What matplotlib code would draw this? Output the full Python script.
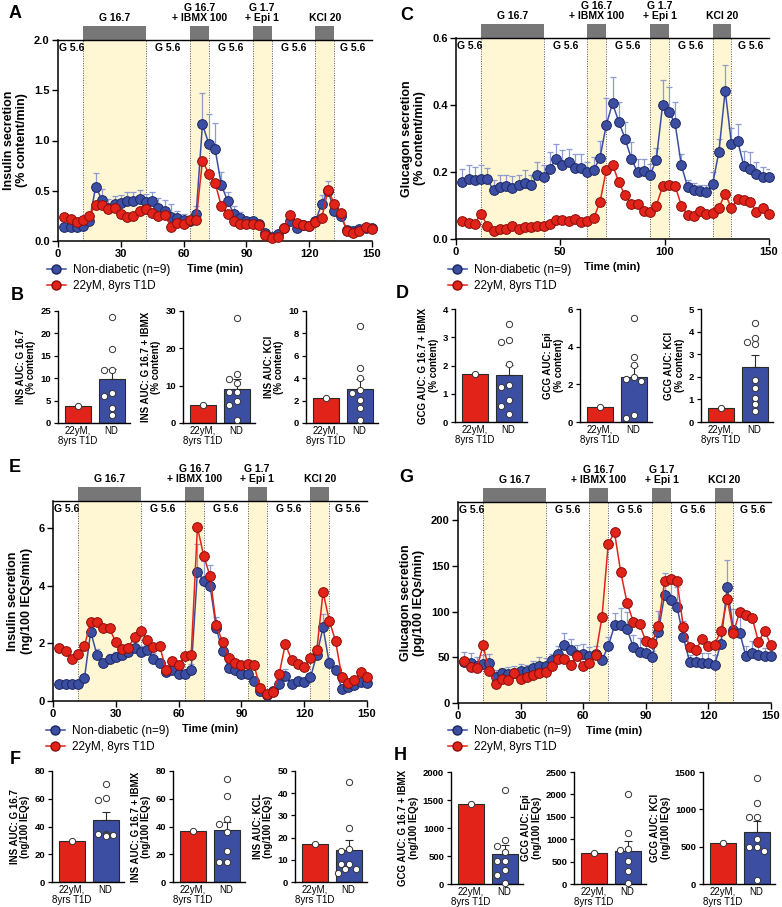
import numpy as np
import matplotlib
matplotlib.use("Agg")
import matplotlib.pyplot as plt
from matplotlib.lines import Line2D
from matplotlib.patches import Rectangle

plt.rcParams['font.family'] = ['Liberation Sans', 'DejaVu Sans']

W, H = 782, 907
fig = plt.figure(figsize=(W / 100, H / 100), dpi=100)

BLUE = '#3b4ea2'
BLUE_EDGE = '#1c2660'
BLUE_ERR = '#8e9bd2'
RED = '#e2231a'
RED_EDGE = '#8a0f0a'
YELLOW = '#fff6d4'
GRAY = '#777777'

# sampling times (min)
time = np.arange(3, 151, 3)

# stimulation windows
stim_spans = [(12, 42), (63, 72), (93, 102), (123, 132)]
stim_labels = ['G 16.7', 'G 16.7\n+ IBMX 100', 'G 1.7\n+ Epi 1', 'KCl 20']
basal_spans = [(0, 12), (42, 63), (72, 93), (102, 123), (132, 150)]

# ---- A: insulin, % content/min
ins_pct_nd = [0.14, 0.14, 0.14, 0.15, 0.20, 0.54, 0.41, 0.33, 0.37, 0.38,
              0.40, 0.40, 0.42, 0.39, 0.40, 0.33, 0.30, 0.24, 0.23, 0.21,
              0.20, 0.27, 1.16, 0.97, 0.92, 0.56, 0.40, 0.27, 0.23, 0.20,
              0.20, 0.17, 0.08, 0.04, 0.07, 0.13, 0.20, 0.13, 0.16, 0.15,
              0.20, 0.37, 0.50, 0.30, 0.25, 0.11, 0.10, 0.12, 0.13, 0.13]
ins_pct_nd_sem = [0.03, 0.03, 0.03, 0.03, 0.04, 0.14, 0.11, 0.09, 0.08, 0.08,
                  0.09, 0.09, 0.09, 0.08, 0.09, 0.10, 0.11, 0.13, 0.07, 0.06,
                  0.04, 0.08, 0.31, 0.29, 0.25, 0.13, 0.09, 0.08, 0.06, 0.04,
                  0.04, 0.04, 0.02, 0.02, 0.02, 0.02, 0.03, 0.02, 0.02, 0.02,
                  0.03, 0.09, 0.10, 0.06, 0.04, 0.02, 0.02, 0.02, 0.02, 0.02]
ins_pct_t1d = [0.24, 0.22, 0.19, 0.21, 0.25, 0.36, 0.36, 0.32, 0.33, 0.27,
               0.24, 0.25, 0.30, 0.32, 0.28, 0.25, 0.26, 0.14, 0.18, 0.17,
               0.21, 0.21, 0.80, 0.67, 0.58, 0.35, 0.27, 0.20, 0.17, 0.17,
               0.17, 0.16, 0.06, 0.03, 0.04, 0.13, 0.26, 0.18, 0.16, 0.15,
               0.19, 0.23, 0.51, 0.37, 0.28, 0.10, 0.08, 0.10, 0.14, 0.12]

# ---- C: glucagon, % content/min
gcg_pct_nd = [0.170, 0.180, 0.175, 0.180, 0.178, 0.145, 0.155, 0.157, 0.153, 0.160,
              0.167, 0.160, 0.190, 0.185, 0.210, 0.240, 0.220, 0.230, 0.213, 0.213,
              0.200, 0.205, 0.243, 0.340, 0.405, 0.350, 0.300, 0.240, 0.200, 0.203,
              0.190, 0.237, 0.400, 0.380, 0.345, 0.220, 0.155, 0.147, 0.142, 0.140,
              0.165, 0.260, 0.443, 0.285, 0.292, 0.217, 0.210, 0.195, 0.185, 0.185]
gcg_pct_nd_sem = [0.040, 0.040, 0.040, 0.040, 0.035, 0.030, 0.035, 0.035, 0.035, 0.030,
                  0.040, 0.030, 0.040, 0.035, 0.050, 0.045, 0.045, 0.040, 0.040, 0.040,
                  0.030, 0.040, 0.050, 0.080, 0.080, 0.060, 0.050, 0.050, 0.040, 0.035,
                  0.035, 0.035, 0.075, 0.075, 0.065, 0.035, 0.020, 0.020, 0.020, 0.020,
                  0.035, 0.040, 0.075, 0.045, 0.050, 0.045, 0.050, 0.035, 0.030, 0.025]
gcg_pct_t1d = [0.055, 0.047, 0.046, 0.075, 0.040, 0.025, 0.030, 0.030, 0.038, 0.030,
               0.035, 0.037, 0.038, 0.040, 0.045, 0.057, 0.057, 0.053, 0.060, 0.050,
               0.053, 0.063, 0.110, 0.205, 0.222, 0.170, 0.130, 0.105, 0.103, 0.083,
               0.080, 0.100, 0.157, 0.160, 0.158, 0.100, 0.072, 0.070, 0.085, 0.075,
               0.077, 0.094, 0.135, 0.092, 0.120, 0.115, 0.110, 0.080, 0.093, 0.075]

# ---- E: insulin, ng/100 IEQs/min
ins_ieq_nd = [0.58, 0.58, 0.58, 0.58, 0.78, 2.40, 1.60, 1.32, 1.47, 1.53,
              1.60, 1.70, 1.82, 1.70, 1.78, 1.47, 1.32, 1.00, 1.08, 0.95,
              0.95, 1.08, 4.48, 4.17, 4.00, 2.52, 1.73, 1.15, 1.08, 0.92,
              0.95, 0.70, 0.33, 0.22, 0.35, 0.58, 0.88, 0.58, 0.68, 0.65,
              0.82, 1.60, 2.55, 1.30, 1.08, 0.43, 0.48, 0.55, 0.65, 0.63]
ins_ieq_nd_sem = [0.05, 0.05, 0.05, 0.05, 0.05, 0.15, 0.20, 0.12, 0.15, 0.17,
                  0.15, 0.20, 0.22, 0.20, 0.17, 0.18, 0.13, 0.10, 0.10, 0.08,
                  0.10, 0.20, 0.97, 0.68, 0.72, 0.40, 0.17, 0.10, 0.10, 0.10,
                  0.08, 0.08, 0.05, 0.05, 0.12, 0.10, 0.22, 0.08, 0.10, 0.10,
                  0.12, 0.30, 0.45, 0.20, 0.10, 0.05, 0.05, 0.05, 0.05, 0.05]
ins_ieq_t1d = [1.83, 1.72, 1.45, 1.63, 1.90, 2.75, 2.73, 2.52, 2.52, 2.03,
               1.80, 1.85, 2.23, 2.42, 2.13, 1.88, 1.90, 1.07, 1.37, 1.25,
               1.55, 1.58, 6.02, 5.03, 4.33, 2.62, 2.05, 1.50, 1.33, 1.25,
               1.27, 1.25, 0.45, 0.23, 0.30, 0.93, 1.97, 1.42, 1.27, 1.18,
               1.48, 1.75, 3.77, 2.78, 2.07, 0.82, 0.62, 0.72, 1.00, 0.82]

# ---- G: glucagon, pg/100 IEQs/min
gcg_ieq_nd = [45, 44, 40, 43, 44, 29, 33, 32, 33, 35,
              35, 38, 41, 41, 47, 54, 63, 58, 53, 54,
              51, 54, 47, 62, 85, 85, 81, 61, 56, 55,
              50, 78, 118, 113, 105, 72, 45, 45, 44, 44,
              42, 65, 127, 80, 77, 51, 55, 52, 51, 51]
gcg_ieq_nd_sem = [11, 11, 10, 9, 10, 7, 5, 7, 7, 8,
                  7, 8, 9, 8, 7, 8, 14, 12, 11, 11,
                  10, 8, 6, 10, 14, 19, 19, 13, 15, 11,
                  7, 23, 24, 27, 22, 18, 7, 10, 11, 11,
                  10, 10, 29, 23, 22, 11, 13, 10, 9, 9]
gcg_ieq_t1d = [46, 39, 38, 63, 35, 21, 26, 25, 33, 26,
               29, 31, 33, 34, 40, 48, 48, 42, 51, 41,
               44, 53, 94, 174, 187, 143, 110, 89, 86, 68,
               66, 84, 133, 136, 133, 83, 61, 58, 70, 62,
               64, 79, 114, 77, 100, 96, 93, 67, 79, 63]

# ---- AUC bar panels: (T1D donor, ND islets, ND mean, ND SEM)
auc_b = [
    (3.9, [23.7, 16.6, 11.9, 11.8, 6.8, 6.1, 3.3, 1.8], 9.9, 2.1),
    (4.8, [28.2, 13.0, 11.7, 10.8, 8.3, 8.3, 5.9, 4.7, 0.9], 9.2, 2.6),
    (2.25, [8.7, 4.9, 4.05, 2.95, 2.65, 2.05, 1.3, 0.25], 3.05, 0.9),
]
auc_d = [
    (1.7, [3.47, 2.89, 2.82, 2.06, 1.31, 1.23, 0.78, 0.57, 0.27], 1.68, 0.35),
    (0.8, [5.5, 3.45, 3.05, 2.38, 2.3, 2.2, 0.36, 0.23], 2.4, 0.55),
    (0.62, [4.4, 3.7, 3.52, 3.43, 1.87, 1.5, 1.06, 0.79, 0.49], 2.45, 0.53),
]
auc_f = [
    (29.5, [70.4, 60.5, 58.9, 34.5, 34.3, 34.2, 34.0, 33.8, 33.5], 45.0, 5.5),
    (36.5, [74.5, 62.0, 45.2, 42.1, 36.3, 22.1, 14.4, 14.4], 37.5, 6.0),
    (17.3, [45.0, 24.3, 15.0, 13.8, 8.3, 8.3, 5.7, 5.7, 4.1], 14.4, 4.4),
]
auc_h = [
    (1420, [1685, 792, 685, 565, 417, 417, 256, 167, 18], 535, 155),
    (700, [2015, 1140, 785, 770, 520, 300, 22], 730, 225),
    (555, [1415, 1080, 895, 895, 605, 493, 493, 440, 50], 700, 140),
]

ylab_b = ['INS AUC: G 16.7\n(% content)', 'INS AUC: G 16.7 + IBMX\n(% content)',
          'INS AUC: KCl\n(% content)']
ylab_d = ['GCG AUC: G 16.7 + IBMX\n(% content)', 'GCG AUC: Epi\n(% content)',
          'GCG AUC: KCl\n(% content)']
ylab_f = ['INS AUC: G 16.7\n(ng/100 IEQs)', 'INS AUC: G 16.7 + IBMX\n(ng/100 IEQs)',
          'INS AUC: KCL\n(ng/100 IEQs)']
ylab_h = ['GCG AUC: G 16.7 + IBMX\n(ng/100 IEQs)', 'GCG AUC: Epi\n(ng/100 IEQs)',
          'GCG AUC: KCl\n(ng/100 IEQs)']
bar_cats = ['22yM,\n8yrs T1D', 'ND']


def px_axes(l, t, r, b):
    return fig.add_axes([l / W, 1 - b / H, (r - l) / W, (b - t) / H])


def timecourse(box, nd, nd_sem, t1d, ymax, yticks, fmt, ylabel, xticks):
    ax = px_axes(*box)
    xt = ax.get_xaxis_transform()
    for a, b in stim_spans:
        ax.axvspan(a, b, color=YELLOW, lw=0, zorder=0)
        for x in (a, b):
            ax.axvline(x, ls=(0, (1, 1.5)), color='#555555', lw=0.7, zorder=1)
    for (a, b), lab in zip(stim_spans, stim_labels):
        ax.add_patch(Rectangle((a, 1.0), b - a, 0.072, transform=xt,
                               color=GRAY, clip_on=False, lw=0))
        ax.text((a + b) / 2, 1.085, lab, transform=xt, ha='center', va='bottom',
                fontsize=7.5, fontweight='bold', linespacing=1.05)
    for i, (a, b) in enumerate(basal_spans):
        if i == 0:
            ax.text(a + 0.6, 0.985, 'G 5.6', transform=xt, ha='left', va='top',
                    fontsize=7.5, fontweight='bold')
        else:
            ax.text((a + b) / 2, 0.985, 'G 5.6', transform=xt, ha='center',
                    va='top', fontsize=7.5, fontweight='bold')
    nd = np.asarray(nd)
    nd_sem = np.asarray(nd_sem)
    ax.errorbar(time, nd, yerr=[np.zeros_like(nd_sem), nd_sem], fmt='none',
                ecolor=BLUE_ERR, elinewidth=0.9, capsize=2.5, capthick=0.9,
                zorder=2)
    ax.plot(time, nd, '-o', color=BLUE, mfc=BLUE, mec=BLUE_EDGE, mew=0.7,
            ms=7, lw=1.1, zorder=3, clip_on=False)
    ax.plot(time, t1d, '-o', color=RED, mfc=RED, mec=RED_EDGE, mew=0.7,
            ms=7, lw=1.1, zorder=4, clip_on=False)
    ax.set_xlim(0, 150)
    ax.set_ylim(0, ymax)
    ax.set_xticks(xticks)
    ax.set_yticks(yticks)
    ax.set_yticklabels([fmt.format(v) for v in yticks])
    ax.spines['right'].set_visible(False)
    ax.spines['top'].set_linewidth(1.0)
    for s in ('left', 'bottom'):
        ax.spines[s].set_linewidth(1.1)
    ax.tick_params(direction='out', length=4, width=1.0, labelsize=8, pad=2)
    for lbl in ax.get_xticklabels() + ax.get_yticklabels():
        lbl.set_fontweight('bold')
    ax.set_ylabel(ylabel, fontsize=9, fontweight='bold', labelpad=4)
    ax.set_xlabel('Time (min)', fontsize=8, fontweight='bold', labelpad=3)
    return ax


def place_points(vals, ymax, h_px):
    # simple beeswarm: spread overlapping dots sideways
    cands = [0.0, -0.22, 0.22, -0.11, 0.11, -0.33, 0.33]
    placed = []
    offs = []
    for v in vals:
        chosen = cands[0]
        for c in cands:
            ok = True
            for pv, pc in placed:
                dy = abs(v - pv) / ymax * h_px
                dx = abs(c - pc) * 33
                if np.hypot(dx, dy) < 6:
                    ok = False
                    break
            if ok:
                chosen = c
                break
        placed.append((v, chosen))
        offs.append(chosen)
    return np.array(offs)


def auc_panel(left, top, bottom, data, ymax, yticks, ylabel):
    t1d, pts, mean, sem = data
    ax = px_axes(left, top, left + 72, bottom)
    ax.bar([0, 1], [t1d, mean], width=0.78, color=[RED, BLUE],
           edgecolor='#2a2a2a', lw=0.8, zorder=2)
    ax.errorbar([1], [mean], yerr=[[0], [sem]], fmt='none', ecolor='#2a2a2a',
                elinewidth=0.8, capsize=3, capthick=0.8, zorder=3)
    ax.plot([0], [t1d], 'o', mfc='white', mec='#333333', mew=0.7, ms=4.5,
            zorder=4, clip_on=False)
    offs = place_points(pts, ymax, bottom - top)
    ax.plot(1 + offs, pts, 'o', mfc='white', mec='#333333', mew=0.7, ms=4.5,
            ls='none', zorder=4, clip_on=False)
    ax.set_xlim(-0.6, 1.55)
    ax.set_ylim(0, ymax)
    ax.set_yticks(yticks)
    ax.set_xticks([0, 1])
    ax.set_xticklabels(bar_cats, fontsize=7, linespacing=1.0)
    for s in ('top', 'right'):
        ax.spines[s].set_visible(False)
    for s in ('left', 'bottom'):
        ax.spines[s].set_linewidth(1.0)
    ax.tick_params(axis='y', direction='out', length=3, width=0.9, labelsize=6.8, pad=2)
    ax.tick_params(axis='x', length=0, pad=2)
    for lbl in ax.get_yticklabels():
        lbl.set_fontweight('bold')
    ax.set_ylabel(ylabel, fontsize=7, fontweight='bold', labelpad=3, linespacing=1.05)
    return ax


# time-course panels
timecourse((58, 40, 372, 241), ins_pct_nd, ins_pct_nd_sem, ins_pct_t1d, 2.0,
           [0, 0.5, 1.0, 1.5, 2.0], '{:.1f}',
           'Insulin secretion\n(% content/min)', [0, 30, 60, 90, 120, 150])
timecourse((456, 38, 769, 239), gcg_pct_nd, gcg_pct_nd_sem, gcg_pct_t1d, 0.6,
           [0, 0.2, 0.4, 0.6], '{:.1f}',
           'Glucagon secretion\n(% content/min)', [0, 50, 100, 150])
timecourse((53, 501, 367, 701), ins_ieq_nd, ins_ieq_nd_sem, ins_ieq_t1d, 6.93,
           [0, 2, 4, 6], '{:.0f}',
           'Insulin secretion\n(ng/100 IEQs/min)', [0, 30, 60, 90, 120, 150])
timecourse((458, 502, 771, 703), gcg_ieq_nd, gcg_ieq_nd_sem, gcg_ieq_t1d, 220,
           [0, 50, 100, 150, 200], '{:.0f}',
           'Glucagon secretion\n(pg/100 IEQs/min)', [0, 30, 60, 90, 120, 150])

# bar panels
for left, data, ymax, yt, yl in zip([58, 183, 306], auc_b, [25, 30, 10],
                                   [[0, 5, 10, 15, 20, 25], [0, 10, 20, 30], [0, 2, 4, 6, 8, 10]],
                                   ylab_b):
    auc_panel(left, 311, 423, data, ymax, yt, yl)
for left, data, ymax, yt, yl in zip([455, 580, 701], auc_d, [4, 6, 5],
                                   [[0, 1, 2, 3, 4], [0, 2, 4, 6], [0, 1, 2, 3, 4, 5]],
                                   ylab_d):
    auc_panel(left, 309, 422, data, ymax, yt, yl)
for left, data, ymax, yt, yl in zip([52, 173, 295], auc_f, [80, 80, 50],
                                   [[0, 20, 40, 60, 80], [0, 20, 40, 60, 80],
                                    [0, 10, 20, 30, 40, 50]],
                                   ylab_f):
    auc_panel(left, 771, 882, data, ymax, yt, yl)
for left, data, ymax, yt, yl in zip([451, 574, 703], auc_h, [2000, 2500, 1500],
                                   [[0, 500, 1000, 1500, 2000],
                                    [0, 500, 1000, 1500, 2000, 2500],
                                    [0, 500, 1000, 1500]],
                                   ylab_h):
    auc_panel(left, 772, 884, data, ymax, yt, yl)

# legends
handles = [Line2D([], [], color=BLUE, marker='o', mfc=BLUE, mec=BLUE_EDGE, ms=6.5, lw=1.1),
           Line2D([], [], color=RED, marker='o', mfc=RED, mec=RED_EDGE, ms=6.5, lw=1.1)]
labels = ['Non-diabetic (n=9)', '22yM, 8yrs T1D']
for x, y in [(47, 264), (448, 264), (46, 725), (448, 725)]:
    fig.legend(handles, labels, loc='upper left', bbox_to_anchor=(x / W, 1 - y / H),
               frameon=False, fontsize=8.5, handlelength=1.6, handletextpad=0.6,
               borderpad=0, borderaxespad=0, labelspacing=0.35)

# panel letters
for let, x, y in [('A', 15, 13), ('B', 17, 296), ('C', 407, 15), ('D', 402, 294),
                  ('E', 15, 468), ('F', 15, 760), ('G', 406, 477), ('H', 400, 756)]:
    fig.text(x / W, 1 - y / H, let, fontsize=13, fontweight='bold', ha='center', va='center')

fig.savefig('out.png', dpi=100)
